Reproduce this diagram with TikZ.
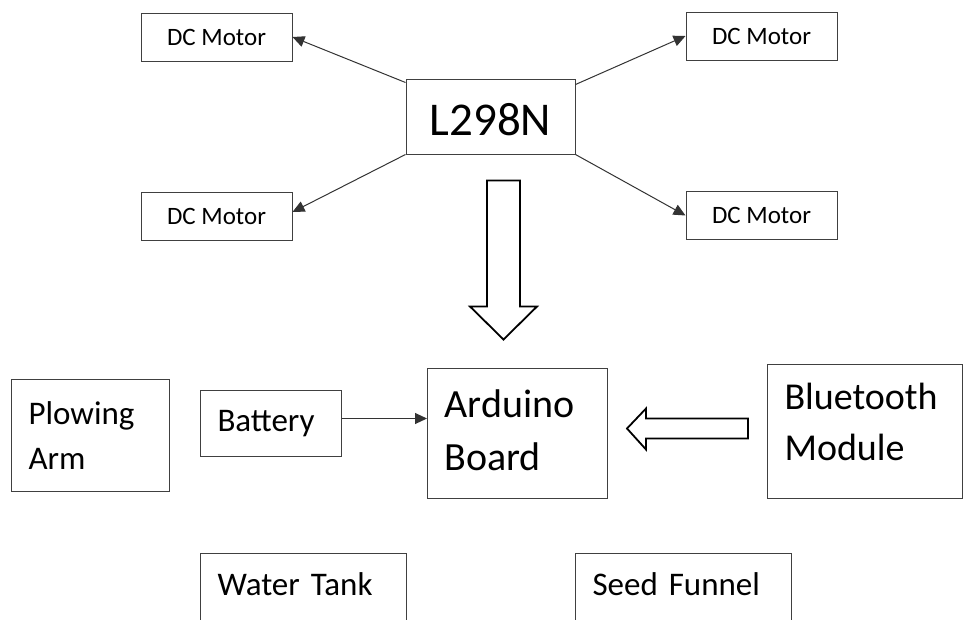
\documentclass[tikz,border=0pt]{standalone}
\usepackage{fontspec}
\setmainfont{Carlito}
\usetikzlibrary{arrows.meta, positioning}

\begin{document}
\begin{tikzpicture}[
   x=1pt, y=-1pt, >={Triangle[length=12pt,width=11pt]},
   box/.style={draw=black!75, line width=1pt, inner sep=0pt},
   motor/.style={box, minimum width=151pt, minimum height=48pt, font=\fontsize{25}{30}\selectfont},
   blk/.style={box, anchor=north west, align=left, inner xsep=17pt},
   conn/.style={->, draw=black!80, line width=1pt},
   hollow/.style={draw=black, line width=1.8pt, line join=miter, fill=white}]
  \useasboundingbox (0,0) rectangle (963,619);
  \node[box, minimum width=169pt, minimum height=75pt, text height=38pt,
        font=\fontsize{47}{50}\selectfont] (l298n) at (490.5,116.5) {L298N};
  \node[motor, left=113pt of l298n, yshift=79.5pt] (mtl) {DC Motor};
  \node[motor, left=113pt of l298n, yshift=-99.5pt] (mbl) {DC Motor};
  \node[motor, right=110pt of l298n, yshift=80.5pt] (mtr) {DC Motor};
  \node[motor, right=110pt of l298n, yshift=-99pt] (mbr) {DC Motor};
  \draw[conn] ([yshift=-4pt]l298n.north west) -- (mtl.east);
  \draw[conn] (l298n.south west) -- ([yshift=4pt]mbl.east);
  \draw[conn] ([yshift=-6pt]l298n.north east) -- (mtr.west);
  \draw[conn] (l298n.south east) -- (mbr.west);

  \node[blk, text width=124pt, minimum height=112pt,
        font=\fontsize{33}{45}\selectfont] (plow) at (11,379) {Plowing\\Arm};
  \node[blk, text width=107pt, minimum height=66pt,
        font=\fontsize{33}{40}\selectfont] (batt) at (200,390) {Battery};
  \node[blk, text width=146pt, minimum height=130pt, text depth=60pt,
        font=\fontsize{40}{53}\selectfont] (ardu) at (427,368) {Arduino\\Board};
  \node[blk, text width=161pt, minimum height=134pt, text depth=70pt,
        font=\fontsize{38}{51}\selectfont] (blue) at (767,364) {Bluetooth\\Module};
  \node[blk, text width=172pt, text height=42pt, text depth=70pt,
        font=\fontsize{33}{40}\selectfont] (water) at (200,553) {Water Tank};
  \node[blk, text width=182pt, text height=42pt, text depth=70pt,
        font=\fontsize{33}{40}\selectfont] (seed) at (575,553) {Seed Funnel};

  \coordinate (battout) at ([yshift=5pt]batt.east);
  \draw[conn] (battout) -- (battout -| ardu.west);

  \coordinate (dtop) at ([xshift=13pt,yshift=-26pt]l298n.south);
  \draw[hollow] ([xshift=-16.5pt]dtop) -- ++(33,0) -- ++(0,126) -- ++(17,0)
     -- ++(-33.5,33) -- ++(-33.5,-33) -- ++(17,0) -- cycle;
  \coordinate (ltip) at ([xshift=19pt,yshift=5pt]ardu.east);
  \draw[hollow] (ltip) -- ++(19,-20) -- ++(0,10) -- ++(102,0) -- ++(0,20)
     -- ++(-102,0) -- ++(0,11) -- cycle;
\end{tikzpicture}
\end{document}
